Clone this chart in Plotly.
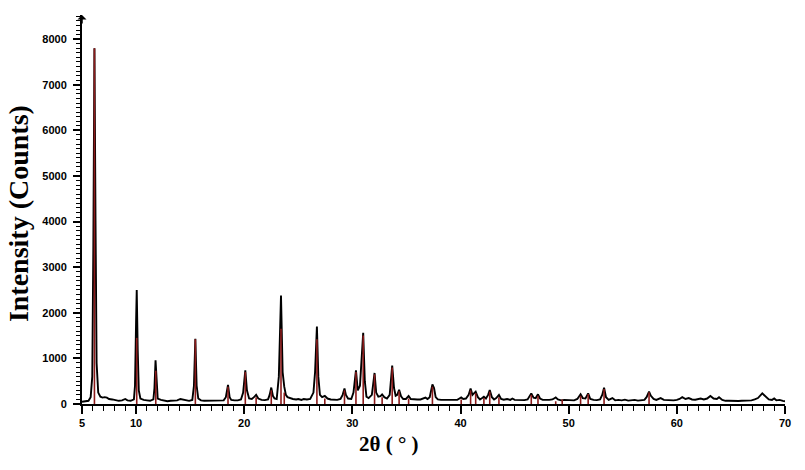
import plotly.graph_objects as go

# Measured profile (2theta in degrees, intensity in counts)
profile_x = [5.0, 5.3, 5.6, 5.8, 5.95, 6.05, 6.15, 6.25, 6.35, 6.5, 6.7, 6.9, 7.1, 7.3, 7.5, 7.8, 8.1, 8.4, 8.7, 9.0,
             9.2, 9.5, 9.8, 9.9, 10.0, 10.06, 10.15, 10.25, 10.4, 10.7, 11.0, 11.3, 11.6, 11.7, 11.8, 11.9, 12.0, 12.3,
             12.6, 12.9, 13.2, 13.5, 13.8, 14.1, 14.3, 14.6, 14.9, 15.2, 15.35, 15.48, 15.6, 15.75, 16.0, 16.3, 16.6,
             16.9, 17.2, 17.5, 17.8, 18.1, 18.3, 18.5, 18.65, 18.8, 19.1, 19.4, 19.7, 19.9, 20.1, 20.25, 20.45, 20.7,
             20.9, 21.1, 21.3, 21.6, 21.9, 22.2, 22.35, 22.5, 22.65, 22.8, 23.0, 23.2, 23.4, 23.55, 23.7, 23.85, 24.0,
             24.2, 24.5, 24.8, 25.0, 25.3, 25.5, 25.8, 26.1, 26.4, 26.55, 26.72, 26.85, 27.0, 27.2, 27.45, 27.7, 28.0,
             28.3, 28.6, 28.9, 29.1, 29.27, 29.4, 29.6, 29.9, 30.1, 30.33, 30.5, 30.7, 31.0, 31.15, 31.3, 31.5, 31.8,
             32.05, 32.2, 32.4, 32.6, 32.75, 32.95, 33.2, 33.45, 33.68, 33.85, 34.0, 34.15, 34.32, 34.5, 34.7, 34.95,
             35.2, 35.4, 35.7, 36.0, 36.3, 36.55, 36.76, 36.95, 37.15, 37.4, 37.55, 37.7, 37.9, 38.2, 38.5, 38.8, 39.1,
             39.4, 39.7, 39.9, 40.06, 40.25, 40.5, 40.75, 40.93, 41.1, 41.4, 41.6, 41.8, 42.0, 42.16, 42.35, 42.55,
             42.7, 42.9, 43.1, 43.3, 43.55, 43.75, 44.0, 44.3, 44.6, 44.8, 45.0, 45.3, 45.6, 45.9, 46.2, 46.4, 46.54,
             46.75, 46.95, 47.16, 47.35, 47.6, 47.9, 48.2, 48.5, 48.8, 49.0, 49.3, 49.6, 49.9, 50.2, 50.5, 50.8, 51.1,
             51.3, 51.55, 51.8, 52.0, 52.3, 52.6, 52.9, 53.1, 53.27, 53.45, 53.7, 54.04, 54.3, 54.6, 54.9, 55.2, 55.5,
             55.8, 56.1, 56.4, 56.7, 57.0, 57.2, 57.43, 57.6, 57.85, 58.1, 58.5, 58.8, 59.1, 59.4, 59.7, 60.0, 60.25,
             60.5, 60.8, 61.1, 61.4, 61.7, 62.0, 62.2, 62.5, 62.8, 63.1, 63.4, 63.7, 63.9, 64.2, 64.5, 64.8, 65.1,
             65.4, 65.7, 66.0, 66.3, 66.6, 66.9, 67.2, 67.5, 67.9, 68.2, 68.5, 68.8, 69.0, 69.2, 69.5, 69.8, 70.0]
profile_y = [50, 55, 70, 150, 600, 3500, 7800, 4000, 900, 250, 160, 140, 150, 140, 110, 100, 80, 70, 80, 110,
             80, 70, 100, 400, 1800, 2500, 1200, 300, 120, 90, 80, 70, 100, 350, 960, 400, 120, 90,
             80, 60, 70, 70, 80, 110, 100, 70, 70, 90, 400, 1430, 400, 120, 80, 70, 70,
             70, 75, 70, 75, 80, 150, 420, 150, 90, 80, 80, 100, 250, 740, 300, 120, 110,
             150, 200, 120, 90, 85, 100, 200, 360, 180, 120, 110, 600, 2380, 700, 380, 200, 150,
             130, 110, 100, 110, 90, 110, 100, 110, 250, 700, 1700, 600, 200, 150, 180, 120, 100,
             100, 90, 110, 200, 340, 200, 120, 110, 250, 740, 300, 400, 1560, 500, 160, 130, 200,
             680, 250, 160, 170, 210, 150, 120, 200, 840, 350, 180, 200, 310, 170, 110, 110,
             175, 110, 100, 100, 100, 120, 140, 110, 150, 430, 350, 150, 100, 90, 90, 85, 90,
             85, 90, 120, 145, 110, 120, 200, 340, 200, 270, 150, 100, 130, 160, 120, 200,
             306, 150, 100, 130, 200, 110, 95, 110, 90, 120, 90, 85, 80, 85, 100, 180, 233,
             140, 130, 212, 120, 90, 85, 90, 100, 145, 100, 80, 90, 85, 95, 80, 110, 212,
             130, 120, 233, 110, 90, 85, 100, 200, 357, 150, 90, 130, 80, 90, 80, 95, 75,
             80, 90, 75, 80, 90, 150, 270, 180, 110, 90, 130, 90, 85, 95, 80, 90, 110,
             150, 110, 130, 100, 95, 110, 120, 100, 120, 175, 120, 110, 150, 90, 70, 70, 65,
             70, 65, 70, 75, 70, 80, 100, 130, 233, 160, 100, 90, 120, 80, 90, 70, 60]

# Reference (stick) pattern
stick_pos = [6.15, 10.06, 11.82, 15.48, 18.5, 20.1, 21.1, 22.5, 23.4, 23.7, 26.72, 27.45, 29.27, 30.33, 31.0,
             32.05, 32.75, 33.68, 34.32, 35.2, 37.4, 40.06, 40.93, 41.4, 42.16, 42.7, 43.55, 46.54, 47.16, 48.8,
             49.4, 51.1, 51.8, 53.27, 57.43]
stick_int = [7800, 1450, 730, 1420, 380, 700, 150, 300, 1650, 250, 1420, 120, 300, 700, 1500,
             650, 150, 800, 280, 120, 380, 100, 300, 240, 130, 270, 150, 200, 180, 60,
             100, 180, 220, 330, 260]

x_ticks = [5, 10, 20, 30, 40, 50, 60, 70]
y_ticks = [0, 1000, 2000, 3000, 4000, 5000, 6000, 7000, 8000]

sx, sy = [], []
for p, h in zip(stick_pos, stick_int):
    sx += [p, p, None]
    sy += [0, h, None]

fig = go.Figure()
fig.add_trace(go.Scatter(x=profile_x, y=profile_y, mode="lines",
                         line=dict(color="black", width=1.9), showlegend=False, hoverinfo="skip"))
fig.add_trace(go.Scatter(x=sx, y=sy, mode="lines",
                         line=dict(color="#8b1a1a", width=1.6), showlegend=False, hoverinfo="skip"))

tickfont = dict(family="Liberation Sans, Arial, sans-serif", size=11, color="black", weight="bold")

fig.update_xaxes(range=[5, 70], tickvals=x_ticks, ticktext=[str(v) for v in x_ticks],
                 showgrid=False, zeroline=False, showline=True, linecolor="black", linewidth=2,
                 ticks="outside", ticklen=8, tickwidth=1.5, tickcolor="black",
                 minor=dict(dtick=1, ticks="outside", ticklen=5, tickwidth=1, tickcolor="black", showgrid=False),
                 tickfont=tickfont, ticklabelstandoff=0)
fig.update_yaxes(range=[0, 8530], tickvals=y_ticks, ticktext=[str(v) for v in y_ticks],
                 showgrid=False, zeroline=False, showline=True, linecolor="black", linewidth=2,
                 ticks="outside", ticklen=7, tickwidth=1.5, tickcolor="black",
                 minor=dict(dtick=100, tick0=0, ticks="outside", ticklen=4, tickwidth=1, tickcolor="black", showgrid=False),
                 tickfont=tickfont, ticklabelstandoff=4)

fig.add_annotation(xref="paper", yref="paper", x=-0.09, y=0.49, xanchor="center", yanchor="middle",
                   text="Intensity (Counts)", textangle=-90, showarrow=False,
                   font=dict(family="Liberation Serif, Times New Roman, serif", size=28, color="black", weight="bold"))
fig.add_annotation(xref="paper", yref="paper", x=0.436, y=-0.103, xanchor="center", yanchor="middle",
                   text="2θ ( ° )", showarrow=False,
                   font=dict(family="Liberation Serif, Times New Roman, serif", size=21, color="black", weight="bold"))
fig.add_annotation(x=5, y=8530, xref="x", yref="y", ax=0, ay=10, axref="pixel", ayref="pixel",
                   showarrow=True, arrowhead=1, arrowsize=1, arrowwidth=1.5, arrowcolor="black", text="")

fig.update_layout(width=805, height=470, margin=dict(l=82, r=20, t=15, b=66),
                  paper_bgcolor="white", plot_bgcolor="white")

fig.write_html("out.html", config={"displayModeBar": False},
               post_script="document.body.style.margin='0';")
